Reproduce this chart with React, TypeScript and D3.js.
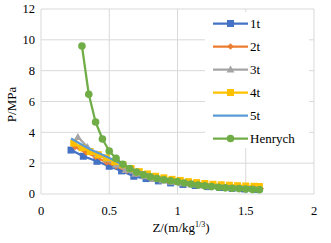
import React from "react";
import * as d3 from "d3";

const xTicks = [0, 0.5, 1, 1.5, 2];
const yTicks = [0, 2, 4, 6, 8, 10, 12];

const z1 = [0.22, 0.31, 0.41, 0.5, 0.59, 0.68, 0.77, 0.86, 0.95, 1.04, 1.13, 1.22, 1.31, 1.4, 1.49, 1.58];
const p1 = [2.85, 2.45, 2.12, 1.8, 1.5, 1.15, 1.0, 0.85, 0.72, 0.62, 0.55, 0.48, 0.42, 0.37, 0.33, 0.3];

const z2 = [0.25, 0.33, 0.4, 0.48, 0.55, 0.63, 0.7, 0.78, 0.86, 0.93, 1.01, 1.08, 1.16, 1.23, 1.31, 1.39, 1.46, 1.54, 1.61];
const p2 = [3.05, 2.7, 2.42, 2.05, 1.8, 1.5, 1.3, 1.12, 0.95, 0.85, 0.74, 0.66, 0.58, 0.52, 0.47, 0.43, 0.4, 0.37, 0.35];

const z3 = [0.27, 0.34, 0.41, 0.48, 0.55, 0.62, 0.69, 0.76, 0.82, 0.89, 0.96, 1.03, 1.1, 1.17, 1.24, 1.31, 1.37, 1.44, 1.51, 1.58];
const p3 = [3.7, 3.05, 2.6, 2.25, 1.9, 1.55, 1.32, 1.15, 0.98, 0.88, 0.78, 0.7, 0.62, 0.55, 0.5, 0.46, 0.42, 0.39, 0.36, 0.34];

const z4 = [0.24, 0.3, 0.36, 0.42, 0.48, 0.54, 0.6, 0.66, 0.72, 0.78, 0.84, 0.9, 0.96, 1.02, 1.08, 1.14, 1.2, 1.26, 1.32, 1.38, 1.44, 1.5, 1.56, 1.6];
const p4 = [3.3, 3.0, 2.75, 2.55, 2.35, 2.1, 1.9, 1.65, 1.45, 1.3, 1.15, 1.05, 0.95, 0.88, 0.8, 0.74, 0.68, 0.63, 0.6, 0.57, 0.54, 0.52, 0.5, 0.49];

const z5 = [0.22, 0.3, 0.37, 0.45, 0.52, 0.6, 0.67, 0.75, 0.82, 0.9, 0.97, 1.05, 1.12, 1.2, 1.27, 1.35, 1.42, 1.5, 1.57, 1.62];
const p5 = [3.6, 3.2, 2.85, 2.55, 2.25, 1.9, 1.6, 1.35, 1.15, 1.0, 0.88, 0.78, 0.69, 0.62, 0.56, 0.51, 0.47, 0.44, 0.41, 0.4];

const zH = [0.3, 0.35, 0.4, 0.45, 0.5, 0.55, 0.6, 0.65, 0.7, 0.75, 0.8, 0.85, 0.9, 0.95, 1.0, 1.05, 1.1, 1.15, 1.2, 1.25, 1.3, 1.35, 1.4, 1.45, 1.5, 1.55, 1.6];
const pH = [9.6, 6.47, 4.67, 3.57, 2.79, 2.31, 1.93, 1.65, 1.42, 1.25, 1.12, 1.01, 0.92, 0.86, 0.8, 0.71, 0.65, 0.58, 0.53, 0.48, 0.44, 0.4, 0.37, 0.35, 0.32, 0.3, 0.28];

type Marker = "square" | "diamond" | "triangle" | "circle" | "none";
const seriesNames = ["1t", "2t", "3t", "4t", "5t", "Henrych"];
const seriesColors = ["#4472C4", "#ED7D31", "#A5A5A5", "#FFC000", "#5B9BD5", "#70AD47"];
const seriesMarkers: Marker[] = ["square", "diamond", "triangle", "square", "none", "circle"];
const seriesZ = [z1, z2, z3, z4, z5, zH];
const seriesP = [p1, p2, p3, p4, p5, pH];

const W = 331;
const H = 243;

function MarkerShape({ type, x, y, color }: { type: Marker; x: number; y: number; color: string }) {
  if (type === "square") return <rect x={x - 3.5} y={y - 3.5} width={7} height={7} fill={color} />;
  if (type === "diamond") return <path d={`M${x},${y - 3.2}L${x + 3.2},${y}L${x},${y + 3.2}L${x - 3.2},${y}Z`} fill={color} />;
  if (type === "triangle") return <path d={`M${x},${y - 4}L${x + 4},${y + 3}L${x - 4},${y + 3}Z`} fill={color} />;
  if (type === "circle") return <circle cx={x} cy={y} r={3.8} fill={color} />;
  return null;
}

export default function App() {
  const x = d3.scaleLinear().domain([0, 2]).range([41, 314]);
  const y = d3.scaleLinear().domain([0, 12]).range([194, 9]);
  const line = d3.line<[number, number]>().x((d) => x(d[0])).y((d) => y(d[1]));

  const legendX0 = 213;
  const legendX1 = 248;
  const legendY0 = 23.5;
  const legendStep = 23;

  return (
    <svg width={W} height={H} style={{ position: "fixed", left: 0, top: 0, background: "#ffffff" }}>
      <style>{`text, tspan { font-family: "Liberation Serif", "Times New Roman", Times, serif !important; }`}</style>
      <rect x={0} y={0} width={W} height={H} fill="#ffffff" />
      {yTicks.map((t) => (
        <line key={"gy" + t} x1={x(0)} x2={x(2)} y1={y(t)} y2={y(t)} stroke="#d9d9d9" strokeWidth={1} />
      ))}
      {xTicks.map((t) => (
        <line key={"gx" + t} x1={x(t)} x2={x(t)} y1={y(0)} y2={y(12)} stroke="#d9d9d9" strokeWidth={1} />
      ))}
      {yTicks.map((t) => (
        <text key={"ty" + t} x={35} y={y(t) + 4.2} textAnchor="end" fontSize={12.5} fill="#000">
          {t}
        </text>
      ))}
      {xTicks.map((t) => (
        <text key={"tx" + t} x={x(t)} y={215} textAnchor="middle" fontSize={12.5} fill="#000">
          {t}
        </text>
      ))}
      <text x={181} y={231.5} textAnchor="middle" fontSize={13} fill="#000">
        Z/(m/kg
        <tspan fontSize={8} dy={-5}>1/3</tspan>
        <tspan dy={5}>)</tspan>
      </text>
      <text x={0} y={0} transform="translate(16,104.5) rotate(-90)" textAnchor="middle" fontSize={13} fill="#000">
        P/MPa
      </text>

      {seriesNames.map((name, i) => {
        const pts = seriesZ[i].map((z, j) => [z, seriesP[i][j]] as [number, number]);
        return (
          <g key={name}>
            <path d={line(pts) || ""} fill="none" stroke={seriesColors[i]} strokeWidth={2.25} strokeLinejoin="round" />
            {pts.map((p, j) => (
              <MarkerShape key={j} type={seriesMarkers[i]} x={x(p[0])} y={y(p[1])} color={seriesColors[i]} />
            ))}
          </g>
        );
      })}

      <rect x={205} y={12} width={104} height={136} fill="#ffffff" />
      {seriesNames.map((name, i) => {
        const cy = legendY0 + i * legendStep;
        return (
          <g key={"lg" + name}>
            <line x1={legendX0} x2={legendX1} y1={cy} y2={cy} stroke={seriesColors[i]} strokeWidth={2.25} />
            <MarkerShape type={seriesMarkers[i]} x={(legendX0 + legendX1) / 2} y={cy} color={seriesColors[i]} />
            <text x={250} y={cy + 4.5} fontSize={13} fill="#000">
              {name}
            </text>
          </g>
        );
      })}
    </svg>
  );
}
